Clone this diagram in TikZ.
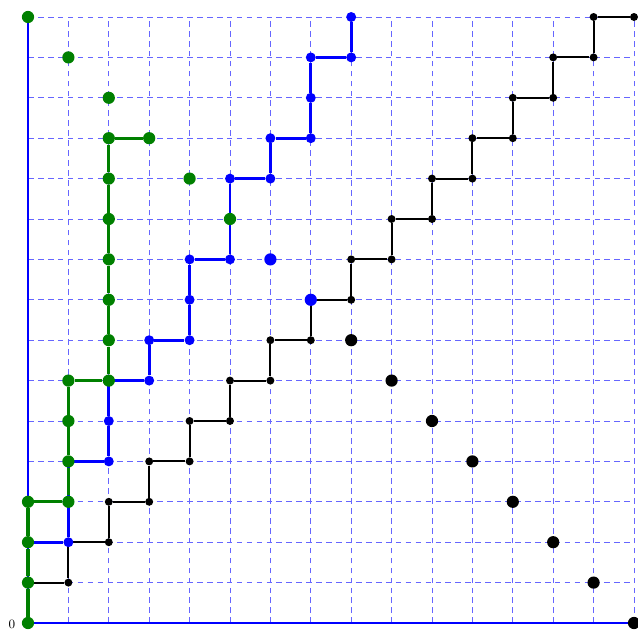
\documentclass[tikz,border=0pt]{standalone}
\usepackage{tikz}
\definecolor{pgreen}{HTML}{008000}

\begin{document}
\begin{tikzpicture}[gridline/.style={blue!60, dash pattern=on 4pt off 3pt, line width=0.6pt},
  axisline/.style={blue, line width=1pt},
  kdot/.style={circle, fill=black, inner sep=0pt, minimum size=5.6pt},
  bdot/.style={circle, fill=blue, inner sep=0pt, minimum size=7pt},
  gdot/.style={circle, fill=pgreen, inner sep=0pt, minimum size=8.6pt},
  big/.style={minimum size=8.6pt}]
\useasboundingbox (-0.693,-0.173) rectangle (15.099,15.421);
\foreach \i in {1,...,15} {
  \draw[gridline] (\i,0) -- (\i,15);
  \draw[gridline] (0,\i) -- (15,\i);
}
\coordinate (o) at (0,0);
\coordinate (xend) at (15,0);
\coordinate (yend) at (0,15);
\draw[axisline] (o) -- (xend);
\draw[axisline] (o) -- (yend);
\node[font=\small, anchor=south, inner sep=0pt] (zero) at (-0.4,-0.16) {0};
% black staircase
\foreach \i in {0,...,14} {
  \node[kdot] (kv\i) at (\i,\i+1) {};
  \node[kdot] (kh\i) at (\i+1,\i+1) {};
}
\foreach \i in {0,...,14} \draw[line width=1.3pt] (kv\i) -- (kh\i);
\foreach \i [evaluate=\i as \j using int(\i+1)] in {0,...,13} \draw[line width=1.3pt] (kh\i) -- (kv\j);
\foreach \i in {8,...,15} \node[kdot, big] (d\i) at (\i,15-\i) {};
% blue path
\foreach \x/\y [count=\n] in {0/2,1/2,1/3,1/4,2/4,2/5,2/6,3/6,3/7,4/7,4/8,4/9,5/9,5/10,5/11,6/11,6/12,7/12,7/13,7/14,8/14,8/15}
  \node[bdot] (b\n) at (\x,\y) {};
\foreach \n [remember=\n as \last (initially 1)] in {2,...,22} \draw[blue, line width=2pt] (b\last) -- (b\n);
\foreach \i in {6,7} \node[bdot, big] (d\i) at (\i,15-\i) {};
% green path
\foreach \x/\y [count=\n] in {0/0,0/1,0/2,0/3,1/3,1/4,1/5,1/6,2/6,2/7,2/8,2/9,2/10,2/11,2/12,3/12}
  \node[gdot] (g\n) at (\x,\y) {};
\foreach \n [remember=\n as \last (initially 1)] in {2,...,16} \draw[pgreen, line width=2.2pt] (g\last) -- (g\n);
\foreach \i in {0,1,2,4,5} \node[gdot] (d\i) at (\i,15-\i) {};
\end{tikzpicture}
\end{document}
